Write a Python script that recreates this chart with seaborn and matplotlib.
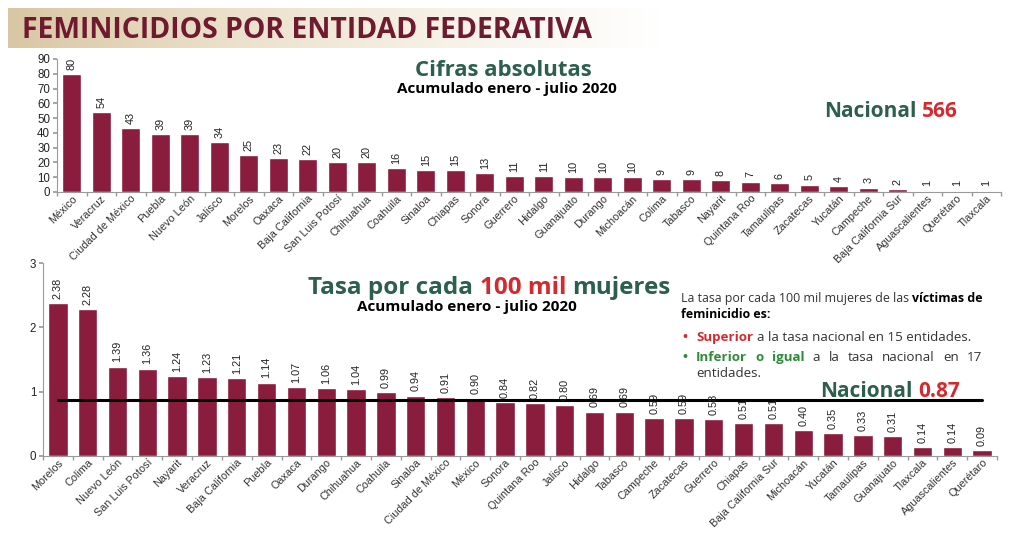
import numpy as np
import pandas as pd
import matplotlib
matplotlib.use("Agg")
import matplotlib.pyplot as plt
import seaborn as sns
from matplotlib.transforms import IdentityTransform
from matplotlib.colors import LinearSegmentedColormap

# ---------------- data ----------------
top_states = ["México", "Veracruz", "Ciudad de México", "Puebla", "Nuevo León", "Jalisco",
              "Morelos", "Oaxaca", "Baja California", "San Luis Potosí", "Chihuahua",
              "Coahuila", "Sinaloa", "Chiapas", "Sonora", "Guerrero", "Hidalgo",
              "Guanajuato", "Durango", "Michoacán", "Colima", "Tabasco", "Nayarit",
              "Quintana Roo", "Tamaulipas", "Zacatecas", "Yucatán", "Campeche",
              "Baja California Sur", "Aguascalientes", "Querétaro", "Tlaxcala"]
top_values = [80, 54, 43, 39, 39, 34, 25, 23, 22, 20, 20, 16, 15, 15, 13, 11, 11,
              10, 10, 10, 9, 9, 8, 7, 6, 5, 4, 3, 2, 1, 1, 1]

rate_states = ["Morelos", "Colima", "Nuevo León", "San Luis Potosí", "Nayarit", "Veracruz",
               "Baja California", "Puebla", "Oaxaca", "Durango", "Chihuahua", "Coahuila",
               "Sinaloa", "Ciudad de México", "México", "Sonora", "Quintana Roo", "Jalisco",
               "Hidalgo", "Tabasco", "Campeche", "Zacatecas", "Guerrero", "Chiapas",
               "Baja California Sur", "Michoacán", "Yucatán", "Tamaulipas", "Guanajuato",
               "Tlaxcala", "Aguascalientes", "Querétaro"]
rate_values = [2.38, 2.28, 1.39, 1.36, 1.24, 1.23, 1.21, 1.14, 1.07, 1.06, 1.04, 0.99,
               0.94, 0.91, 0.90, 0.84, 0.82, 0.80, 0.69, 0.69, 0.59, 0.59, 0.58, 0.51,
               0.51, 0.40, 0.35, 0.33, 0.31, 0.14, 0.14, 0.09]

national_total = 566
national_rate = 0.87
top_yticks = list(range(0, 100, 10))
rate_yticks = [0, 1, 2, 3]

# ---------------- style ----------------
BAR = "#8a1c3e"
MAROON = "#6e1b30"
GREEN = "#2c5f4c"
RED = "#d42a2f"
BGREEN = "#2e8b3a"
W, H = 1024, 534

sns.set_theme(style="white")
plt.rcParams['font.family'] = ['Liberation Sans', 'DejaVu Sans']

fig = plt.figure(figsize=(W / 100, H / 100), dpi=100)
fig.patch.set_facecolor("white")


def px_axes(left, top, right, bottom):
    return fig.add_axes([left / W, 1 - bottom / H, (right - left) / W, (bottom - top) / H])


# banner gradient
bax = px_axes(8, 8, 660, 48)
grad = np.linspace(0, 1, 256)[None, :]
cm = LinearSegmentedColormap.from_list("b", ["#d9c6a4", "#ece0cb", "#f7f1e6", "#ffffff"])
bax.imshow(grad, aspect="auto", cmap=cm, extent=[0, 1, 0, 1])
bax.axis("off")


def style_axes(ax):
    for s in ["top", "right"]:
        ax.spines[s].set_visible(False)
    for s in ["left", "bottom"]:
        ax.spines[s].set_color("#9a9a9a")
        ax.spines[s].set_linewidth(0.8)
    ax.set_facecolor("none")
    ax.set_xlabel("")
    ax.set_ylabel("")
    ax.tick_params(axis="y", length=3, color="#9a9a9a", labelsize=8.3, labelcolor="#222222", pad=2, left=True)
    ax.tick_params(axis="x", which="major", length=0, labelsize=7.8, labelcolor="#333333", pad=1)
    n = len(ax.get_xticks())
    ax.set_xticks(np.arange(-0.5, n, 1.0), minor=True)
    ax.tick_params(axis="x", which="minor", length=3, color="#9a9a9a", bottom=True)
    plt.setp(ax.get_xticklabels(), rotation=45, ha="right", rotation_mode="anchor")


# ---------------- top chart ----------------
ax1 = px_axes(57, 59, 1001, 192)
df1 = pd.DataFrame({"estado": top_states, "valor": top_values})
sns.barplot(data=df1, x="estado", y="valor", color=BAR, saturation=1, width=0.65, ax=ax1)
ax1.set_ylim(0, 90)
ax1.set_xlim(-0.5, len(top_states) - 0.5)
ax1.set_yticks(top_yticks)
style_axes(ax1)
for i, v in enumerate(top_values):
    ax1.annotate(f"{v}", (i, v), xytext=(0, 3), textcoords="offset points",
                 rotation=90, ha="center", va="bottom", fontsize=7.8, color="#222222")

# ---------------- bottom chart ----------------
ax2 = px_axes(43, 263, 997, 456)
df2 = pd.DataFrame({"estado": rate_states, "tasa": rate_values})
sns.barplot(data=df2, x="estado", y="tasa", color=BAR, saturation=1, width=0.65, ax=ax2)
ax2.set_ylim(0, 3)
ax2.set_xlim(-0.5, len(rate_states) - 0.5)
ax2.set_yticks(rate_yticks)
style_axes(ax2)
for i, v in enumerate(rate_values):
    ax2.annotate(f"{v:.2f}", (i, v), xytext=(0, 3), textcoords="offset points",
                 rotation=90, ha="center", va="bottom", fontsize=7.8, color="#222222")
sns.lineplot(x=[0, len(rate_states) - 1], y=[national_rate, national_rate], color="black",
             linewidth=2.2, ax=ax2)
ax2.set_xlabel("")
ax2.set_ylabel("")

# ---------------- texts ----------------
renderer = fig.canvas.get_renderer()
ID = IdentityTransform()


def text_px(x, y, s, **kw):
    return fig.text(x, H - y, s, transform=ID, **kw)


def width_of(t):
    return t.get_window_extent(renderer).width


def rich(x, y, parts, size, family, ha="left", gap=None):
    """parts: list of (text, color, weight). y is baseline in px from top."""
    if gap is None:
        gap = size * 0.27 * 100 / 72
    texts = []
    for s, c, w in parts:
        t = text_px(0, y, s, color=c, fontsize=size, fontweight=w, family=family, va="baseline")
        texts.append(t)
    widths = [width_of(t) for t in texts]
    total = sum(widths) + gap * (len(texts) - 1)
    if ha == "center":
        x = x - total / 2
    elif ha == "right":
        x = x - total
    cur = x
    for t, wd in zip(texts, widths):
        t.set_x(cur)
        cur += wd + gap
    return texts


def justify(x0, x1, y, words, size, family):
    texts = [text_px(0, y, s, color=c, fontsize=size, fontweight=w, family=family, va="baseline")
             for s, c, w in words]
    widths = [width_of(t) for t in texts]
    gap = (x1 - x0 - sum(widths)) / (len(texts) - 1)
    cur = x0
    for t, wd in zip(texts, widths):
        t.set_x(cur)
        cur += wd + gap


HEAD = ["Open Sans", "DejaVu Sans"]

# main title
t = text_px(22, 38, "FEMINICIDIOS POR ENTIDAD FEDERATIVA", color=MAROON, fontsize=21,
            fontweight="bold", family=HEAD, va="baseline")
wt = width_of(t)
t.set_fontsize(21 * 571 / wt)

# top chart headings
text_px(503, 76, "Cifras absolutas", color=GREEN, fontsize=16, fontweight="bold",
        family=HEAD, va="baseline", ha="center")
text_px(507, 93, "Acumulado enero - julio 2020", color="black", fontsize=11,
        fontweight="bold", family=HEAD, va="baseline", ha="center")
rich(824, 117, [("Nacional", GREEN, "bold"), (str(national_total), RED, "bold")], 15, HEAD)

# bottom chart headings
rich(308, 294, [("Tasa por cada", GREEN, "bold"), ("100 mil", RED, "bold"),
                ("mujeres", GREEN, "bold")], 17.5, HEAD)
text_px(467, 311, "Acumulado enero - julio 2020", color="black", fontsize=11,
        fontweight="bold", family=HEAD, va="baseline", ha="center")
rich(820, 397, [("Nacional", GREEN, "bold"), (f"{national_rate:.2f}", RED, "bold")], 15, HEAD)

# explanatory box
fs = 8.9
rich(681, 302, [("La tasa por cada 100 mil mujeres de las", "#333333", "normal"),
                ("víctimas de", "black", "bold")], fs, HEAD)
text_px(681, 318, "feminicidio es:", color="black", fontsize=fs, fontweight="bold",
        family=HEAD, va="baseline")
fs2 = 9.6
text_px(682, 341, "•", color=RED, fontsize=fs2, fontweight="bold", family=HEAD, va="baseline")
rich(696, 341, [("Superior", RED, "bold"),
                ("a la tasa nacional en 15 entidades.", "#333333", "normal")], fs2, HEAD)
text_px(682, 361, "•", color=BGREEN, fontsize=fs2, fontweight="bold", family=HEAD, va="baseline")
justify(696, 982, 361, [("Inferior", BGREEN, "bold"), ("o", BGREEN, "bold"),
                        ("igual", BGREEN, "bold"), ("a", "#333333", "normal"),
                        ("la", "#333333", "normal"), ("tasa", "#333333", "normal"),
                        ("nacional", "#333333", "normal"), ("en", "#333333", "normal"),
                        ("17", "#333333", "normal")], fs2, HEAD)
text_px(696, 377, "entidades.", color="#333333", fontsize=fs2, family=HEAD, va="baseline")

fig.savefig("out.png", dpi=100, facecolor="white")
